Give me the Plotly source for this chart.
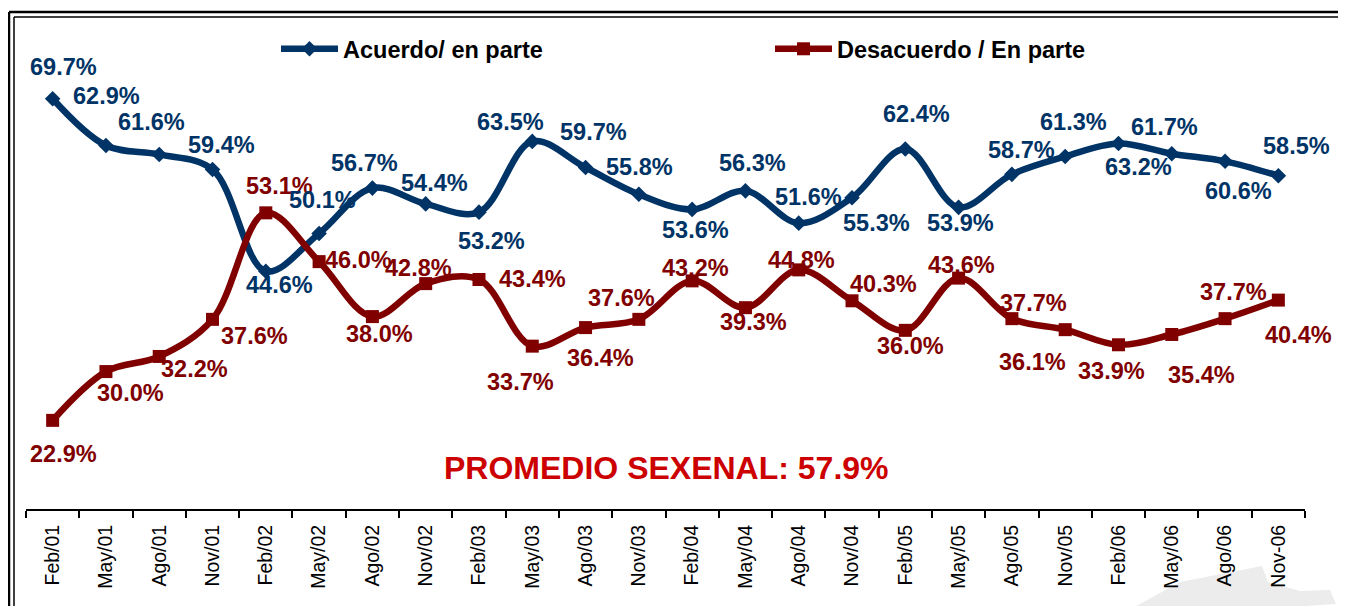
import plotly.graph_objects as go

categories = ["Feb/01", "May/01", "Ago/01", "Nov/01", "Feb/02", "May/02", "Ago/02", "Nov/02",
              "Feb/03", "May/03", "Ago/03", "Nov/03", "Feb/04", "May/04", "Ago/04", "Nov/04",
              "Feb/05", "May/05", "Ago/05", "Nov/05", "Feb/06", "May/06", "Ago/06", "Nov-06"]

acuerdo = [69.7, 62.9, 61.6, 59.4, 44.6, 50.1, 56.7, 54.4, 53.2, 63.5, 59.7, 55.8,
           53.6, 56.3, 51.6, 55.3, 62.4, 53.9, 58.7, 61.3, 63.2, 61.7, 60.6, 58.5]

desacuerdo = [22.9, 30.0, 32.2, 37.6, 53.1, 46.0, 38.0, 42.8, 43.4, 33.7, 36.4, 37.6,
              43.2, 39.3, 44.8, 40.3, 36.0, 43.6, 37.7, 36.1, 33.9, 35.4, 37.7, 40.4]

promedio_text = "PROMEDIO SEXENAL: 57.9%"

# label offsets (pixels) relative to each point
blue_dx = [11, 1, -8, 9, 14, 3, -8, 9, 13, -22, 8, 1, 3, 7, 10, 24, 11, 2, 10, 8, 20, -7, 13, 18]
blue_dy = [32, 50, 32, 25, -14, 33, 25, 21, -29, 19, 35, 27, -21, 28, 26, -25, 35, -16, 24, 35, -24, 27, -30, 30]
red_dx = [11, 25, 35, 42, 14, 39, 7, -7, 54, -12, 15, -17, 3, 8, 3, 31, 5, 3, 22, -33, -7, 30, 8, 20]
red_dy = [-34, -21, -13, -17, 27, 2, -17, 16, 0, -36, -30, 21, 13, -14, 10, 17, -16, 13, 16, -32, -26, -41, 27, -35]

BLUE = "#003366"
RED = "#800000"
FONT = "Liberation Sans, Arial, sans-serif"

# page body has an 8px margin; figure sized to fill the rest of the window
OFF = 8
W, H = 1346 - 2 * OFF, 614 - 2 * OFF
ML, MR, MT, MB = 18, 33, 20, 97
PW, PH = W - ML - MR, H - MT - MB


def px_x(p):
    """screen pixel x -> paper x"""
    return (p - OFF - ML) / PW


def px_y(p):
    """screen pixel y -> paper y"""
    return 1 - (p - OFF - MT) / PH


fig = go.Figure()
fig.add_trace(go.Scatter(
    x=categories, y=acuerdo, name="Acuerdo/ en parte", mode="lines+markers",
    line=dict(color=BLUE, width=6.5, shape="spline", smoothing=1.0),
    marker=dict(symbol="diamond", size=12, color=BLUE),
    hoverinfo="skip"))
fig.add_trace(go.Scatter(
    x=categories, y=desacuerdo, name="Desacuerdo / En parte", mode="lines+markers",
    line=dict(color=RED, width=6.5, shape="spline", smoothing=1.0),
    marker=dict(symbol="square", size=13, color=RED),
    hoverinfo="skip"))

annotations = []
for i, c in enumerate(categories):
    annotations.append(dict(x=c, y=acuerdo[i], text=f"{acuerdo[i]:.1f}%", showarrow=False,
                            xshift=blue_dx[i], yshift=blue_dy[i],
                            font=dict(family=FONT, size=23.5, color=BLUE, weight="bold")))
    annotations.append(dict(x=c, y=desacuerdo[i], text=f"{desacuerdo[i]:.1f}%", showarrow=False,
                            xshift=red_dx[i], yshift=red_dy[i],
                            font=dict(family=FONT, size=23.5, color=RED, weight="bold")))

annotations.append(dict(xref="paper", yref="paper", x=px_x(666), y=px_y(468),
                        text=promedio_text, showarrow=False, xanchor="center", yanchor="middle",
                        font=dict(family=FONT, size=32, color="#CC0000", weight="bold")))

shapes = [
    # double frame (top and left edges visible)
    dict(type="line", xref="paper", yref="paper", x0=px_x(9), x1=px_x(1370), y0=px_y(12), y1=px_y(12),
         line=dict(color="black", width=2.5)),
    dict(type="line", xref="paper", yref="paper", x0=px_x(9), x1=px_x(9), y0=px_y(12), y1=px_y(640),
         line=dict(color="black", width=2.5)),
    dict(type="line", xref="paper", yref="paper", x0=px_x(14), x1=px_x(1370), y0=px_y(17), y1=px_y(17),
         line=dict(color="black", width=1.5)),
    dict(type="line", xref="paper", yref="paper", x0=px_x(14), x1=px_x(14), y0=px_y(17), y1=px_y(640),
         line=dict(color="black", width=1.5)),
]

# faint watermark swoosh in bottom-right corner
pts = [(1118, 616), (1180, 582), (1262, 566), (1268, 582), (1300, 591), (1330, 590),
       (1336, 604), (1290, 607), (1255, 616)]
path = "M " + " L ".join(f"{px_x(x):.5f},{px_y(y):.5f}" for x, y in pts) + " Z"
shapes.append(dict(type="path", xref="paper", yref="paper", path=path,
                   fillcolor="#ECECEC", line=dict(width=0), layer="below"))

fig.update_layout(
    width=W, height=H,
    margin=dict(l=ML, r=MR, t=MT, b=MB),
    paper_bgcolor="white", plot_bgcolor="white",
    showlegend=True,
    legend=dict(orientation="h", x=px_x(276), xanchor="left", y=px_y(49), yanchor="middle",
                bgcolor="rgba(0,0,0,0)", font=dict(family=FONT, size=23.5, color="black", weight="bold"),
                entrywidth=422, itemwidth=57, tracegroupgap=0),
    xaxis=dict(type="category", range=[-0.5, len(categories) - 0.5], tickson="boundaries",
               ticks="outside", ticklen=7, tickwidth=2, tickcolor="black",
               showline=True, linecolor="black", linewidth=2, showgrid=False, zeroline=False,
               tickangle=-90, ticklabelstandoff=6,
               tickfont=dict(family=FONT, size=19.5, color="black")),
    yaxis=dict(range=[10, 80], visible=False, showgrid=False, zeroline=False),
    annotations=annotations,
    shapes=shapes,
    hovermode=False,
)

fig.write_html("out.html")
